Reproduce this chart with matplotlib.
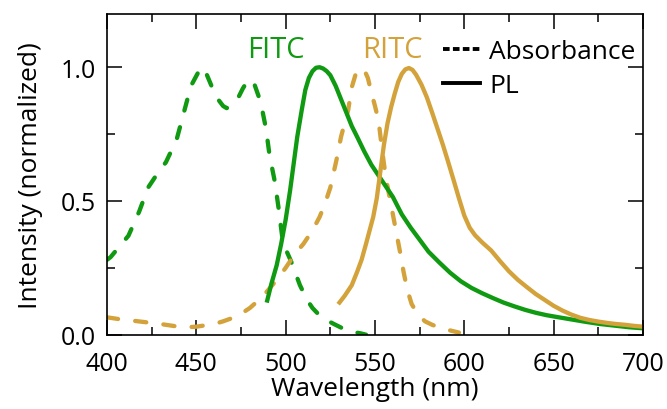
import matplotlib
matplotlib.use("Agg")
import matplotlib.pyplot as plt
from matplotlib.lines import Line2D
from matplotlib.ticker import MultipleLocator

plt.rcParams['font.family'] = ['Open Sans', 'DejaVu Sans']

GREEN = '#0f9a12'
GOLD = '#d4a23a'

# FITC absorbance (dashed green)
fitc_abs_nm = [400, 402, 407, 412, 418, 423, 428, 433, 439, 443, 447, 451, 454, 456,
               461, 465, 467, 470, 473, 476, 479, 482, 486, 489, 491, 494, 496, 498,
               500, 503, 508, 512, 515, 520, 527, 533, 538, 542, 545]
fitc_abs = [0.28, 0.29, 0.33, 0.37, 0.46, 0.55, 0.60, 0.645, 0.73, 0.83, 0.93, 0.98, 1.0, 0.97,
            0.89, 0.855, 0.847, 0.86, 0.88, 0.92, 0.953, 0.946, 0.87, 0.77, 0.67, 0.57, 0.475, 0.37,
            0.32, 0.275, 0.185, 0.13, 0.10, 0.065, 0.04, 0.02, 0.01, 0.005, 0.0]

# FITC PL (solid green)
fitc_pl_nm = [489.4, 492, 495, 497.5, 500, 502.5, 504.5, 506.5, 509, 511, 513, 515, 517, 519,
              521, 523, 525, 528, 531, 534, 537, 540, 544, 548, 552, 556, 560, 565, 570, 575,
              580, 586, 592, 598, 604, 610, 616, 622, 628, 634, 640, 646, 652, 660, 668, 676,
              684, 692, 700]
fitc_pl = [0.12, 0.19, 0.26, 0.34, 0.43, 0.54, 0.64, 0.74, 0.84, 0.915, 0.96, 0.985, 0.998, 1.0,
           0.995, 0.985, 0.97, 0.93, 0.88, 0.83, 0.78, 0.74, 0.685, 0.635, 0.595, 0.555, 0.515,
           0.45, 0.40, 0.355, 0.31, 0.27, 0.232, 0.20, 0.175, 0.155, 0.137, 0.12, 0.106, 0.093,
           0.082, 0.073, 0.066, 0.057, 0.048, 0.04, 0.034, 0.028, 0.024]

# RITC absorbance (dashed gold)
ritc_abs_nm = [400, 405, 410, 415, 420, 425, 430, 435, 440, 445, 450, 455, 460, 465, 470, 475,
               480, 485, 490, 495, 500, 505, 510, 515, 519, 522, 525, 528.5, 531, 535, 537, 539,
               541.5, 544, 546, 548, 550, 552, 554, 556, 558, 560, 562, 564, 566, 568, 570.5,
               574, 578, 582, 587, 592, 597]
ritc_abs = [0.065, 0.06, 0.055, 0.052, 0.048, 0.044, 0.04, 0.035, 0.03, 0.028, 0.03, 0.035, 0.04,
            0.05, 0.062, 0.078, 0.1, 0.13, 0.165, 0.205, 0.25, 0.3, 0.34, 0.39, 0.44, 0.49, 0.55,
            0.655, 0.74, 0.84, 0.925, 0.97, 0.996, 0.99, 0.96, 0.905, 0.855, 0.80, 0.69, 0.59,
            0.52, 0.45, 0.38, 0.31, 0.235, 0.17, 0.115, 0.075, 0.05, 0.037, 0.025, 0.016, 0.008]

# RITC PL (solid gold)
ritc_pl_nm = [529.4, 533, 537, 540, 542.5, 545, 547, 549, 551, 553, 555, 557, 559, 561, 563, 565,
              567, 569, 571, 573, 576, 579, 582, 585, 588, 591, 594, 597, 600, 603, 606, 610, 615,
              620, 625, 630, 635, 640, 645, 650, 655, 660, 665, 670, 675, 680, 685, 690, 695, 700]
ritc_pl = [0.114, 0.145, 0.185, 0.235, 0.28, 0.34, 0.39, 0.44, 0.51, 0.61, 0.71, 0.79, 0.85, 0.90,
           0.945, 0.975, 0.992, 0.997, 0.99, 0.972, 0.935, 0.888, 0.83, 0.77, 0.71, 0.645, 0.578,
           0.51, 0.445, 0.40, 0.372, 0.345, 0.315, 0.275, 0.237, 0.205, 0.178, 0.152, 0.13, 0.108,
           0.09, 0.075, 0.063, 0.055, 0.049, 0.044, 0.04, 0.037, 0.033, 0.03]

fig = plt.figure(figsize=(6.67, 4.10), dpi=100)
ax = fig.add_axes([0.1604, 0.1812, 0.8036, 0.7829])

lw = 3.1
dash = (2.6, 4.0)
ax.plot(fitc_abs_nm, fitc_abs, color=GREEN, lw=lw, dashes=dash, dash_capstyle='round')
ax.plot(ritc_abs_nm, ritc_abs, color=GOLD, lw=lw, dashes=dash, dash_capstyle='round')
ax.plot(fitc_pl_nm, fitc_pl, color=GREEN, lw=lw, solid_capstyle='butt')
ax.plot(ritc_pl_nm, ritc_pl, color=GOLD, lw=lw, solid_capstyle='butt')

ax.set_xlim(400, 700)
ax.set_ylim(0, 1.2)
ax.xaxis.set_major_locator(MultipleLocator(50))
ax.xaxis.set_minor_locator(MultipleLocator(25))
ax.yaxis.set_major_locator(MultipleLocator(0.5))
ax.yaxis.set_minor_locator(MultipleLocator(0.25))
ax.yaxis.set_major_formatter(plt.FormatStrFormatter('%.1f'))

ax.tick_params(which='both', direction='in', top=True, right=True, width=1.1, colors='black')
ax.tick_params(which='major', length=10.5, labelsize=18)
ax.tick_params(axis='x', which='major', pad=12)
ax.tick_params(axis='y', which='major', pad=8)
ax.tick_params(which='minor', length=5.5)
for s in ax.spines.values():
    s.set_linewidth(1.2)

ax.set_xlabel('Wavelength (nm)', fontsize=19, labelpad=0)
ax.set_ylabel('Intensity (normalized)', fontsize=19, labelpad=13)

ax.text(494.6, 1.068, 'FITC', color=GREEN, fontsize=21, ha='center', va='center')
ax.text(559.5, 1.068, 'RITC', color=GOLD, fontsize=21, ha='center', va='center')

handles = [Line2D([], [], color='black', lw=2.8, dashes=(1.7, 0.85)),
           Line2D([], [], color='black', lw=2.8)]
ax.legend(handles, ['Absorbance', 'PL'], loc='upper left', bbox_to_anchor=(0.627, 0.921),
          frameon=False, fontsize=19, borderpad=0, borderaxespad=0, handlelength=1.4,
          handletextpad=0.35, labelspacing=0.33)

fig.savefig('out.png', dpi=100)
